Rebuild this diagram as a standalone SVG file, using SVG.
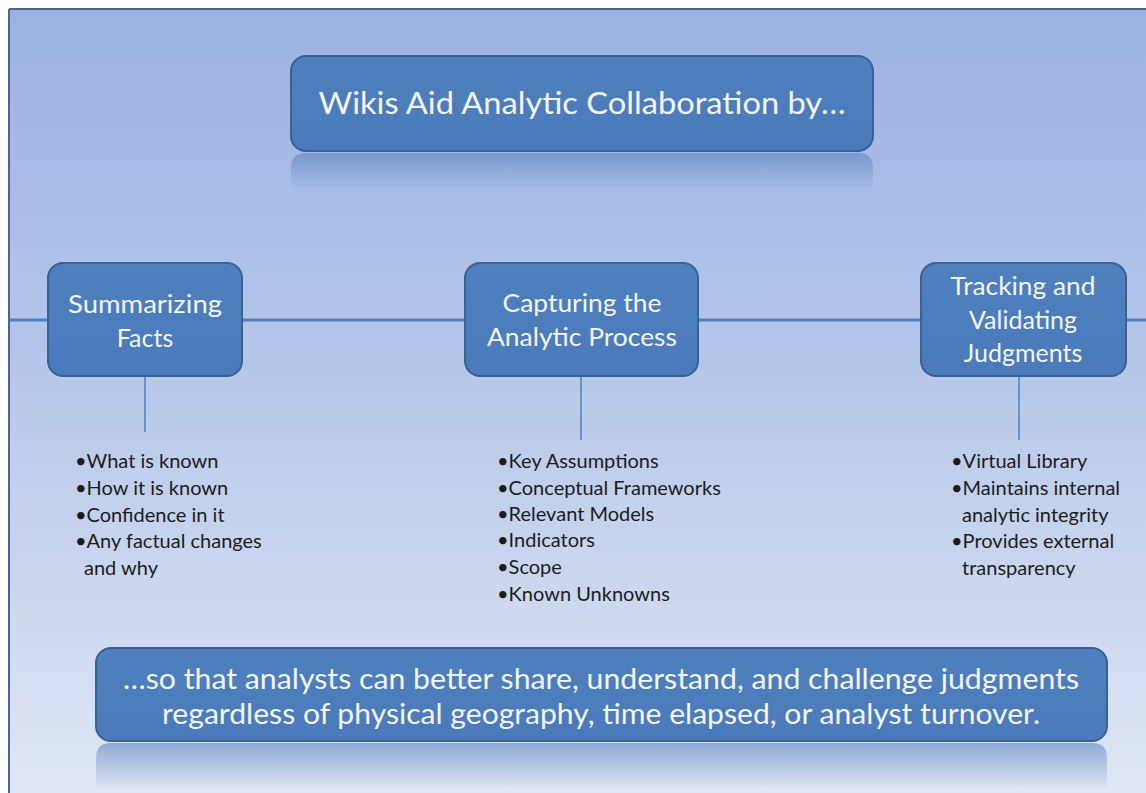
<svg xmlns="http://www.w3.org/2000/svg" width="1146" height="793" viewBox="0 0 1146 793">
<defs>
<linearGradient id="bg" x1="0" y1="0" x2="0" y2="1">
<stop offset="0" stop-color="#9bb1e2"/>
<stop offset="0.45" stop-color="#b5c7e9"/>
<stop offset="1" stop-color="#e0e6f3"/>
</linearGradient>
<linearGradient id="refl" x1="0" y1="0" x2="0" y2="1">
<stop offset="0" stop-color="#4f7fbd" stop-opacity="0.55"/>
<stop offset="1" stop-color="#4f7fbd" stop-opacity="0"/>
</linearGradient>
<linearGradient id="boxg" x1="0" y1="0" x2="0" y2="1">
<stop offset="0" stop-color="#4f80bd"/>
<stop offset="1" stop-color="#4a7aba"/>
</linearGradient>
</defs>
<style>
.box{fill:url(#boxg);stroke:#3a6094;stroke-width:2}
.lbl{font-family:Lato,"Open Sans",sans-serif;fill:#f4f6fa;text-anchor:middle}
.bul{font-family:Lato,"Open Sans",sans-serif;font-size:20px;fill:#1c1c1c}
.conn{stroke:#4f7fbd;fill:none}
</style>
<rect x="0" y="0" width="1146" height="793" fill="#ffffff"/>
<rect x="9" y="9" width="1137" height="784" fill="url(#bg)"/>
<line x1="9" y1="9" x2="1146" y2="9" stroke="#4a6690" stroke-width="2"/>
<line x1="9" y1="9" x2="9" y2="793" stroke="#4a6690" stroke-width="2"/>

<g id="connectors">
<line class="conn" x1="10" y1="320" x2="1146" y2="320" stroke-width="3"/>
<line class="conn" x1="145" y1="376" x2="145" y2="432" stroke-width="1.5"/>
<line class="conn" x1="581" y1="376" x2="581" y2="440" stroke-width="1.5"/>
<line class="conn" x1="1019" y1="376" x2="1019" y2="440" stroke-width="1.5"/>
</g>

<g id="title">
<path d="M291,190 L291,168 Q291,153 306,153 L858,153 Q873,153 873,168 L873,190 Z" fill="url(#refl)"/>
<rect class="box" x="291" y="56" width="582" height="95" rx="15"/>
<text class="lbl" x="582" y="114" font-size="30" textLength="527" lengthAdjust="spacingAndGlyphs">Wikis Aid Analytic Collaboration by…</text>
</g>

<g id="summarizing">
<rect class="box" x="48" y="263" width="194" height="113" rx="15"/>
<text class="lbl" x="145" y="313" font-size="25" textLength="154" lengthAdjust="spacingAndGlyphs">Summarizing</text>
<text class="lbl" x="145" y="347" font-size="25">Facts</text>
</g>

<g id="capturing">
<rect class="box" x="465" y="263" width="233" height="113" rx="15"/>
<text class="lbl" x="582" y="312" font-size="25" textLength="159" lengthAdjust="spacingAndGlyphs">Capturing the</text>
<text class="lbl" x="582" y="346" font-size="25" textLength="190" lengthAdjust="spacingAndGlyphs">Analytic Process</text>
</g>

<g id="tracking">
<rect class="box" x="921" y="263" width="205" height="113" rx="15"/>
<text class="lbl" x="1023" y="295" font-size="25" textLength="145" lengthAdjust="spacingAndGlyphs">Tracking and</text>
<text class="lbl" x="1023" y="329" font-size="25">Validating</text>
<text class="lbl" x="1023" y="362" font-size="25">Judgments</text>
</g>

<g id="list-facts">
<text class="bul" x="75" y="468">•What is known</text>
<text class="bul" x="75" y="495">•How it is known</text>
<text class="bul" x="75" y="522">•Confidence in it</text>
<text class="bul" x="75" y="548">•Any factual changes</text>
<text class="bul" x="84" y="575">and why</text>
</g>

<g id="list-process">
<text class="bul" x="497" y="468">•Key Assumptions</text>
<text class="bul" x="497" y="495">•Conceptual Frameworks</text>
<text class="bul" x="497" y="521">•Relevant Models</text>
<text class="bul" x="497" y="547">•Indicators</text>
<text class="bul" x="497" y="574">•Scope</text>
<text class="bul" x="497" y="601">•Known Unknowns</text>
</g>

<g id="list-judgments">
<text class="bul" x="951" y="468">•Virtual Library</text>
<text class="bul" x="951" y="495">•Maintains internal</text>
<text class="bul" x="962" y="522">analytic integrity</text>
<text class="bul" x="951" y="548">•Provides external</text>
<text class="bul" x="962" y="575">transparency</text>
</g>

<g id="conclusion">
<path d="M96,790 L96,758 Q96,743 111,743 L1092,743 Q1107,743 1107,758 L1107,790 Z" fill="url(#refl)"/>
<rect class="box" x="96" y="648" width="1011" height="93" rx="15"/>
<text class="lbl" x="601" y="689" font-size="28" textLength="956" lengthAdjust="spacingAndGlyphs">…so that analysts can better share, understand, and challenge judgments</text>
<text class="lbl" x="601" y="724" font-size="28" textLength="878" lengthAdjust="spacingAndGlyphs">regardless of physical geography, time elapsed, or analyst turnover.</text>
</g>
</svg>
